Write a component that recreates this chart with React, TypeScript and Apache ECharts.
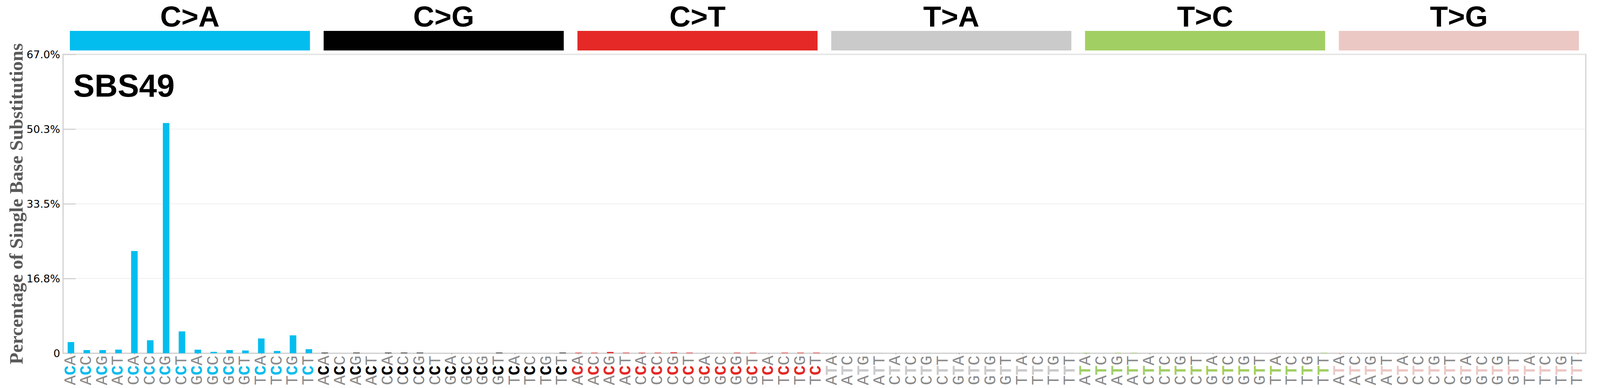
import React, { useEffect, useRef } from "react";
import * as echarts from "echarts";

// mutation groups shown in the header strip
const GROUPS = ["C>A", "C>G", "C>T", "T>A", "T>C", "T>G"];
const GROUP_COLORS = ["#03BDEF", "#010101", "#E42926", "#CBCACA", "#A2CF63", "#ECC8C5"];

// trinucleotide contexts, middle base is the mutated one
const CONTEXT_C = ["ACA", "ACC", "ACG", "ACT", "CCA", "CCC", "CCG", "CCT", "GCA", "GCC", "GCG", "GCT", "TCA", "TCC", "TCG", "TCT"];
const CONTEXT_T = ["ATA", "ATC", "ATG", "ATT", "CTA", "CTC", "CTG", "CTT", "GTA", "GTC", "GTG", "GTT", "TTA", "TTC", "TTG", "TTT"];

// percentage of single base substitutions per context
const VALUES_CA = [2.5, 0.7, 0.7, 0.8, 22.9, 2.9, 51.6, 4.9, 0.8, 0.3, 0.7, 0.6, 3.3, 0.5, 4.0, 0.9];
const VALUES_CG = [0.12, 0, 0.12, 0, 0.12, 0.12, 0.12, 0, 0, 0, 0, 0.12, 0, 0, 0, 0.12];
const VALUES_CT = [0.12, 0.12, 0.28, 0.12, 0.12, 0.12, 0.2, 0.12, 0, 0, 0.12, 0.12, 0, 0.12, 0.12, 0.12];
const VALUES_TA = [0, 0, 0.1, 0.1, 0, 0, 0.1, 0, 0, 0, 0, 0, 0.1, 0, 0, 0.1];
const VALUES_TC = [0.1, 0, 0.1, 0.1, 0, 0, 0, 0, 0, 0, 0, 0, 0, 0, 0, 0.1];
const VALUES_TG = [0.1, 0, 0, 0, 0, 0, 0, 0, 0, 0, 0, 0, 0, 0, 0, 0.1];

const Y_TICKS = ["0", "16.8%", "33.5%", "50.3%", "67.0%"];
const Y_MAX = 67;
const Y_STEP = 16.75;

const SIGNATURE = "SBS49";
const Y_TITLE = "Percentage of Single Base Substitutions";

const GROUP_VALUES = [VALUES_CA, VALUES_CG, VALUES_CT, VALUES_TA, VALUES_TC, VALUES_TG];

// layout was measured on a 4393px wide canvas; horizontal sizes scale with the real width
const DESIGN_WIDTH = 4393;

export default function App() {
  const ref = useRef<HTMLDivElement>(null);

  useEffect(() => {
    if (!ref.current) return;
    const chart = echarts.init(ref.current, undefined, { renderer: "svg" });
    const sx = ref.current.clientWidth / DESIGN_WIDTH;

    const categories: string[] = [];
    const barData: any[] = [];
    GROUPS.forEach((g, gi) => {
      const ctx = g[0] === "C" ? CONTEXT_C : CONTEXT_T;
      ctx.forEach((c, ci) => {
        categories.push(`${g}:${c}`);
        barData.push({ value: GROUP_VALUES[gi][ci], itemStyle: { color: GROUP_COLORS[gi] } });
      });
    });

    const rich: Record<string, any> = {
      f: { fontFamily: "Liberation Mono", fontSize: 42, color: "#8a8a8a" },
    };
    GROUP_COLORS.forEach((col, i) => {
      rich["m" + i] = { fontFamily: "Liberation Mono", fontWeight: "bold", fontSize: 42, color: col };
    });

    const gridLeft = 173 * sx;
    const gridRight = 39 * sx;

    chart.setOption({
      animation: false,
      backgroundColor: "#fff",
      title: {
        text: SIGNATURE,
        left: 201 * sx,
        top: 177,
        padding: 0,
        textStyle: { fontFamily: "Liberation Sans", fontWeight: "bold", fontSize: 82, lineHeight: 82, color: "#000" },
      },
      grid: [
        { left: gridLeft, right: gridRight, top: 139, bottom: 89, show: true, borderColor: "#d3d3d3", borderWidth: 3 },
        { left: gridLeft, right: gridRight, top: 79, height: 50 },
      ],
      xAxis: [
        {
          type: "category",
          gridIndex: 0,
          data: categories,
          axisLine: { lineStyle: { color: "#d3d3d3", width: 3 } },
          axisTick: { show: true, interval: 3, alignWithLabel: true, length: 3, lineStyle: { color: "#6e6e6e", width: 1 } },
          splitLine: { show: false },
          axisLabel: {
            interval: 0,
            rotate: 90,
            margin: 6,
            formatter: (v: string, i: number) => {
              const c = v.split(":")[1];
              const gi = Math.floor(i / 16);
              return `{f|${c[0]}}{m${gi}|${c[1]}}{f|${c[2]}}`;
            },
            rich,
          },
        },
        { type: "category", gridIndex: 1, data: GROUPS, show: false },
      ],
      yAxis: [
        {
          type: "value",
          gridIndex: 0,
          min: 0,
          max: Y_MAX,
          interval: Y_STEP,
          axisLine: { show: true, lineStyle: { color: "#d3d3d3", width: 3 } },
          axisTick: { show: true, inside: true, length: 35 * sx, lineStyle: { color: "#d3d3d3", width: 3 } },
          axisLabel: {
            formatter: (_v: number, i: number) => Y_TICKS[i],
            fontFamily: "DejaVu Sans",
            fontSize: 27,
            color: "#000",
            margin: 8 * sx,
          },
          splitLine: { lineStyle: { color: "#ebebeb", width: 1.5 } },
          name: Y_TITLE,
          nameLocation: "middle",
          nameRotate: 90,
          nameGap: 95,
          nameMoveOverlap: false,
          nameTextStyle: { fontFamily: "Liberation Serif", fontWeight: "bold", fontSize: 49, lineHeight: 49, color: "#595959" },
        },
        { type: "value", gridIndex: 1, min: 0, max: 1, show: false },
      ],
      series: [
        { type: "bar", xAxisIndex: 0, yAxisIndex: 0, data: barData, barWidth: 18 * sx },
        {
          type: "bar",
          xAxisIndex: 1,
          yAxisIndex: 1,
          barWidth: "94.6%",
          data: GROUPS.map((g, i) => ({ value: 1, itemStyle: { color: GROUP_COLORS[i] } })),
          label: {
            show: true,
            position: "top",
            distance: 0,
            formatter: (p: any) => p.name,
            fontFamily: "Liberation Sans",
            fontWeight: "bold",
            fontSize: 75,
            lineHeight: 75,
            color: "#000",
          },
        },
      ],
    });

    return () => chart.dispose();
  }, []);

  return <div ref={ref} style={{ position: "absolute", left: 0, top: 0, width: "100vw", height: 992 }} />;
}
